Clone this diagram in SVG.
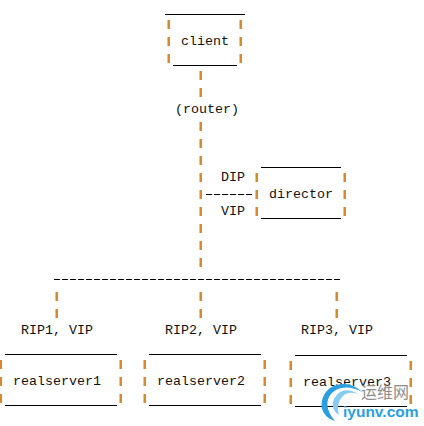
<svg xmlns="http://www.w3.org/2000/svg" xmlns:xlink="http://www.w3.org/1999/xlink" width="424" height="426" viewBox="0 0 424 426">
<style>
text{font-family:"Liberation Mono",monospace;font-size:13.33px;fill:#111}
.l{stroke:#000;stroke-width:1;fill:none}
.d{stroke:#000;stroke-width:1;fill:none;stroke-dasharray:6 2}
</style>
<defs>
<g id="bar"><rect x="0" y="0" width="2" height="9" fill="#d8892a"/><rect x="-0.500" y="0" width="0.500" height="9" fill="#5f9fd6"/></g>
</defs>
<rect width="424" height="426" fill="#fff"/>
<g id="connectors">
<use xlink:href="#bar" x="200" y="71"/><use xlink:href="#bar" x="200" y="88"/>
<use xlink:href="#bar" x="200" y="122"/><use xlink:href="#bar" x="200" y="139"/><use xlink:href="#bar" x="200" y="156"/><use xlink:href="#bar" x="200" y="173"/><use xlink:href="#bar" x="200" y="190"/><use xlink:href="#bar" x="200" y="207"/><use xlink:href="#bar" x="200" y="224"/><use xlink:href="#bar" x="200" y="241"/><use xlink:href="#bar" x="200" y="258"/>
<path class="d" d="M206 194.500H254"/>
<path class="d" d="M54 279.500H342"/>
<use xlink:href="#bar" x="56" y="292"/><use xlink:href="#bar" x="56" y="309"/>
<use xlink:href="#bar" x="200" y="292"/><use xlink:href="#bar" x="200" y="309"/>
<use xlink:href="#bar" x="336" y="292"/><use xlink:href="#bar" x="336" y="309"/>
</g>
<g id="labels">
<text x="175" y="113">(router)</text>
<text x="221" y="181">DIP</text>
<text x="221" y="215">VIP</text>
<text x="21" y="334">RIP1, VIP</text>
<text x="165" y="334">RIP2, VIP</text>
<text x="301" y="334">RIP3, VIP</text>
</g>
<g id="client">
<path class="l" d="M165 14.500H245M173 65.500H237"/>
<use xlink:href="#bar" x="168" y="20"/><use xlink:href="#bar" x="168" y="37"/><use xlink:href="#bar" x="168" y="54"/>
<use xlink:href="#bar" x="240" y="20"/><use xlink:href="#bar" x="240" y="37"/><use xlink:href="#bar" x="240" y="54"/>
<text x="181" y="45">client</text>
</g>
<g id="director">
<path class="l" d="M261 167.500H341M261 218.500H341"/>
<use xlink:href="#bar" x="256" y="173"/><use xlink:href="#bar" x="256" y="190"/><use xlink:href="#bar" x="256" y="207"/>
<use xlink:href="#bar" x="344" y="173"/><use xlink:href="#bar" x="344" y="190"/><use xlink:href="#bar" x="344" y="207"/>
<text x="269" y="198">director</text>
</g>
<g id="realserver1">
<path class="l" d="M5 354.500H117M5 405.500H117"/>
<use xlink:href="#bar" x="0" y="360"/><use xlink:href="#bar" x="0" y="377"/><use xlink:href="#bar" x="0" y="394"/>
<use xlink:href="#bar" x="120" y="360"/><use xlink:href="#bar" x="120" y="377"/><use xlink:href="#bar" x="120" y="394"/>
<text x="13" y="385">realserver1</text>
</g>
<g id="realserver2">
<path class="l" d="M149 354.500H261M149 405.500H261"/>
<use xlink:href="#bar" x="144" y="360"/><use xlink:href="#bar" x="144" y="377"/><use xlink:href="#bar" x="144" y="394"/>
<use xlink:href="#bar" x="264" y="360"/><use xlink:href="#bar" x="264" y="377"/><use xlink:href="#bar" x="264" y="394"/>
<text x="157" y="385">realserver2</text>
</g>
<g id="realserver3">
<path class="l" d="M295 355.500H407M295 406.500H407"/>
<use xlink:href="#bar" x="290" y="361"/><use xlink:href="#bar" x="290" y="378"/><use xlink:href="#bar" x="290" y="395"/>
<use xlink:href="#bar" x="410" y="361"/><use xlink:href="#bar" x="410" y="378"/><use xlink:href="#bar" x="410" y="395"/>
<text x="303" y="386">realserver3</text>
</g>
<g id="watermark">
<path d="M362 392C350 380 331 382 324 395C318 407 324 418 335 421C329 414 325 405 329 397C335 386 350 385 362 392Z" fill="#2a9fe0"/>
<path d="M358 394C349 387 338 390 334 399C331 406 334 412 339 415C337 408 338 401 343 396C347 392 353 392 358 394Z" fill="#86ccf0"/>
<text x="361" y="398" style="font-family:'Noto Sans CJK SC',sans-serif;font-size:16px;fill:#8d8d8d">运维网</text>
<text x="343" y="417" style="font-family:'Liberation Sans',sans-serif;font-size:15.500px;font-weight:bold;fill:#2a9fe0">iyunv.com</text>
</g>
</svg>
